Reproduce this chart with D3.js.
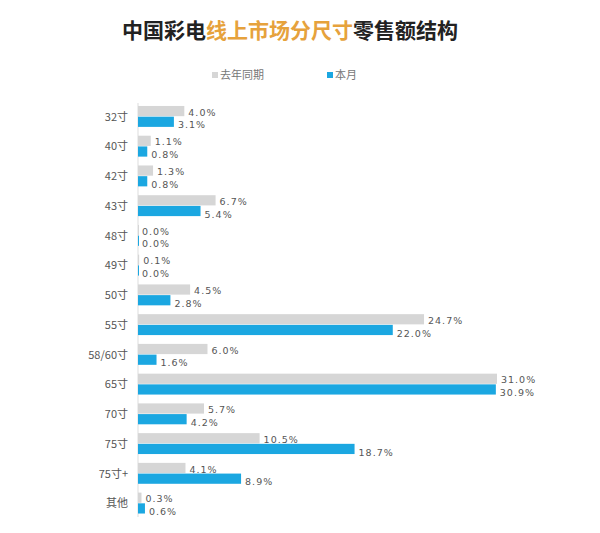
<!DOCTYPE html><html><head><meta charset="utf-8"><script src="https://cdn.jsdelivr.net/npm/d3@7"></script>
<style>body{margin:0;background:#fff}</style></head><body><svg id="c" width="600" height="533"></svg>
<script>
const categories=["32寸","40寸","42寸","43寸","48寸","49寸","50寸","55寸","58/60寸","65寸","70寸","75寸","75寸+","其他"];
const lastYear=[4.0,1.1,1.3,6.7,0.0,0.1,4.5,24.7,6.0,31.0,5.7,10.5,4.1,0.3];
const thisMonth=[3.1,0.8,0.8,5.4,0.0,0.0,2.8,22.0,1.6,30.9,4.2,18.7,8.9,0.6];
const seriesNames=["去年同期","本月"];
const colors=["#d6d6d6","#1ba7e1"];
const svg=d3.select("#c");
const F="'Noto Sans CJK SC','Noto Sans',sans-serif";
const x=d3.scaleLinear().domain([0,31]).range([138,497]);
const y=d3.scaleBand().domain(categories).range([103,517]).paddingInner(0.28).paddingOuter(0.1);
const bh=y.bandwidth()/2;
const t=svg.append("text").attr("x",290).attr("y",38).attr("text-anchor","middle").attr("font-family",F).attr("font-size",21).attr("font-weight","bold");
[["中国彩电","#222"],["线上市场分尺寸","#e6a23c"],["零售额结构","#222"]].forEach(([s,c])=>t.append("tspan").attr("fill",c).text(s));
[[212,0],[327,1]].forEach(([lx,i])=>{
 svg.append("rect").attr("x",lx).attr("y",72).attr("width",6).attr("height",6).attr("fill",colors[i]);
 svg.append("text").attr("x",lx+8).attr("y",79).attr("font-family",F).attr("font-size",11).attr("fill","#777").text(seriesNames[i]);
});
svg.append("line").attr("x1",138).attr("x2",138).attr("y1",103).attr("y2",517).attr("stroke","#ddd");
const g=svg.append("g");
categories.forEach((c,i)=>{
 const y0=y(c);
 g.append("text").attr("x",128).attr("y",y0+bh+4).attr("text-anchor","end").attr("font-family",F).attr("font-size",11).attr("fill","#555").text(c);
 [lastYear[i],thisMonth[i]].forEach((v,k)=>{
  const yy=y0+k*bh;
  g.append("rect").attr("x",x(0)).attr("y",yy).attr("width",Math.max(x(v)-x(0),1)).attr("height",bh-0.5).attr("fill",colors[k]);
  g.append("text").attr("x",x(v)+4).attr("y",yy+(k?bh+1:bh-1)).attr("font-family","'DejaVu Sans',sans-serif").attr("font-size",9.5).attr("fill","#555").attr("letter-spacing",1).text(v.toFixed(1)+"%");
 });
});
</script></body></html>
